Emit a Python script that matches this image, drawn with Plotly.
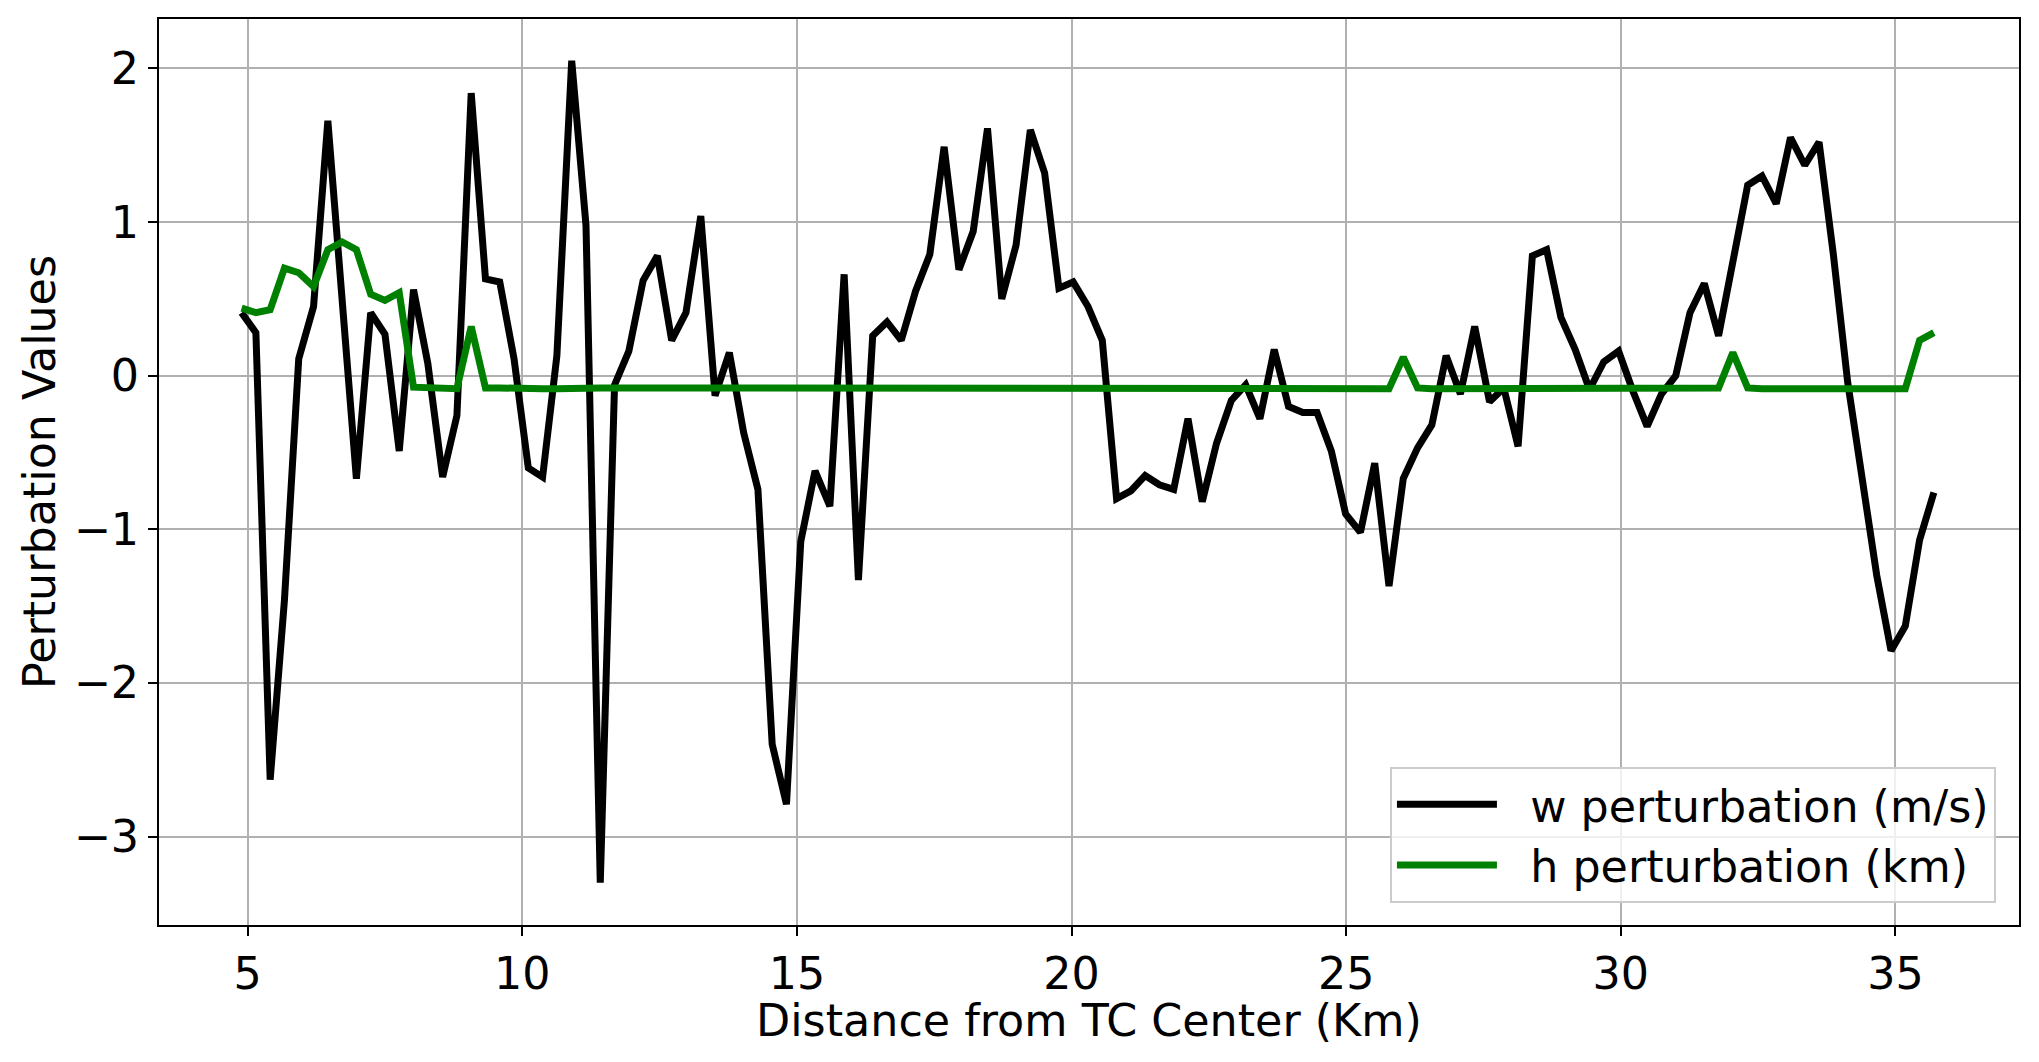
import plotly.graph_objects as go

# distance from TC center (km)
dist_km = [4.89, 5.15, 5.41, 5.67, 5.93, 6.20, 6.46, 6.72, 6.98, 7.24,
           7.50, 7.76, 8.02, 8.28, 8.55, 8.81, 9.07, 9.33, 9.59, 9.85,
           10.11, 10.37, 10.63, 10.90, 11.16, 11.42, 11.68, 11.94, 12.20, 12.46,
           12.72, 12.98, 13.25, 13.51, 13.77, 14.03, 14.29, 14.55, 14.81, 15.07,
           15.33, 15.60, 15.86, 16.12, 16.38, 16.64, 16.90, 17.16, 17.42, 17.68,
           17.95, 18.21, 18.47, 18.73, 18.99, 19.25, 19.51, 19.77, 20.03, 20.30,
           20.56, 20.82, 21.08, 21.34, 21.60, 21.86, 22.12, 22.38, 22.64, 22.91,
           23.17, 23.43, 23.69, 23.95, 24.21, 24.47, 24.73, 24.99, 25.26, 25.52,
           25.78, 26.04, 26.30, 26.56, 26.82, 27.08, 27.34, 27.61, 27.87, 28.13,
           28.39, 28.65, 28.91, 29.17, 29.43, 29.69, 29.96, 30.22, 30.48, 30.74,
           31.00, 31.26, 31.52, 31.78, 32.04, 32.31, 32.57, 32.83, 33.09, 33.35,
           33.61, 33.87, 34.13, 34.39, 34.66, 34.92, 35.18, 35.44, 35.70]

w_pert = [0.41, 0.28, -2.63, -1.46, 0.11, 0.45, 1.66, 0.49, -0.67, 0.41,
          0.27, -0.49, 0.56, 0.08, -0.66, -0.26, 1.84, 0.63, 0.61, 0.11,
          -0.60, -0.66, 0.13, 2.05, 0.98, -3.30, -0.06, 0.16, 0.62, 0.78,
          0.23, 0.41, 1.04, -0.13, 0.15, -0.37, -0.74, -2.40, -2.79, -1.08,
          -0.62, -0.85, 0.66, -1.33, 0.26, 0.35, 0.23, 0.55, 0.79, 1.49,
          0.69, 0.94, 1.61, 0.50, 0.85, 1.60, 1.32, 0.57, 0.61, 0.45,
          0.23, -0.80, -0.75, -0.65, -0.71, -0.74, -0.28, -0.82, -0.44, -0.16,
          -0.06, -0.28, 0.17, -0.20, -0.24, -0.24, -0.49, -0.90, -1.02, -0.57,
          -1.37, -0.67, -0.47, -0.32, 0.13, -0.12, 0.32, -0.17, -0.08, -0.46,
          0.78, 0.82, 0.38, 0.17, -0.09, 0.09, 0.16, -0.10, -0.33, -0.12,
          0.00, 0.41, 0.60, 0.26, 0.76, 1.24, 1.30, 1.12, 1.55, 1.37,
          1.52, 0.79, -0.04, -0.69, -1.30, -1.79, -1.63, -1.07, -0.76]

h_pert = [0.44, 0.41, 0.43, 0.70, 0.67, 0.58, 0.82, 0.87, 0.82, 0.53,
          0.49, 0.54, -0.075, -0.08, -0.085, -0.085, 0.32, -0.08, -0.08, -0.085,
          -0.085, -0.085, -0.085, -0.08, -0.08, -0.08, -0.08, -0.08, -0.08, -0.08,
          -0.08, -0.08, -0.08, -0.08, -0.08, -0.08, -0.08, -0.08, -0.08, -0.08,
          -0.08, -0.08, -0.08, -0.08, -0.08, -0.08, -0.08, -0.08, -0.08, -0.08,
          -0.08, -0.08, -0.08, -0.08, -0.08, -0.08, -0.08, -0.08, -0.08, -0.08,
          -0.08, -0.08, -0.08, -0.08, -0.08, -0.08, -0.08, -0.085, -0.085, -0.085,
          -0.085, -0.085, -0.085, -0.08, -0.08, -0.08, -0.085, -0.085, -0.085, -0.085,
          -0.085, 0.12, -0.08, -0.085, -0.085, -0.085, -0.085, -0.085, -0.085, -0.085,
          -0.085, -0.085, -0.085, -0.085, -0.08, -0.08, -0.08, -0.085, -0.085, -0.085,
          -0.085, -0.085, -0.08, -0.08, 0.15, -0.08, -0.085, -0.085, -0.085, -0.085,
          -0.085, -0.085, -0.08, -0.085, -0.085, -0.085, -0.085, 0.23, 0.28]

x_ticks = [5, 10, 15, 20, 25, 30, 35]
y_ticks = [-3, -2, -1, 0, 1, 2]

FONT = "DejaVu Sans"
fs = 44.4
gap = "\u00a0\u00a0"  # room between legend line and its label

fig = go.Figure()
fig.add_trace(go.Scatter(x=dist_km, y=w_pert, mode="lines", name=gap + "w perturbation (m/s)",
                         line=dict(color="black", width=7)))
fig.add_trace(go.Scatter(x=dist_km, y=h_pert, mode="lines", name=gap + "h perturbation (km)",
                         line=dict(color="green", width=7)))

axis_style = dict(showline=True, mirror=True, linecolor="black", linewidth=2,
                  ticks="outside", ticklen=9, tickwidth=2, tickcolor="black",
                  showgrid=True, gridcolor="#b0b0b0", gridwidth=2, zeroline=False,
                  automargin=False,
                  tickfont=dict(family=FONT, size=fs, color="black"))

fig.update_xaxes(range=[3.386, 37.25], tickvals=x_ticks, **axis_style)
fig.update_yaxes(range=[-3.576, 2.322], tickvals=y_ticks, **axis_style)

# axis titles placed as paper annotations so the spacing matches the reference
fig.add_annotation(text="Distance from TC Center (Km)", xref="paper", yref="paper",
                   x=0.5, y=-0.1049, xanchor="center", yanchor="middle", showarrow=False,
                   font=dict(family=FONT, size=fs, color="black"))
fig.add_annotation(text="Perturbation Values", xref="paper", yref="paper",
                   x=-0.0645, y=0.5, xanchor="center", yanchor="middle", textangle=-90,
                   showarrow=False, font=dict(family=FONT, size=fs, color="black"))

# page body has an 8px margin, so the figure is 8px smaller and margins shifted
fig.update_layout(width=2031, height=1054,
                  margin=dict(l=151, r=20, t=11, b=137),
                  plot_bgcolor="white", paper_bgcolor="white",
                  font=dict(family=FONT, size=fs, color="black"),
                  legend=dict(x=0.9876, y=0.0243, xanchor="right", yanchor="bottom",
                              bgcolor="rgba(255,255,255,0.8)", bordercolor="#cccccc", borderwidth=2,
                              font=dict(family=FONT, size=fs, color="black"),
                              itemwidth=100, tracegroupgap=0))

fig.write_html("out.html")
